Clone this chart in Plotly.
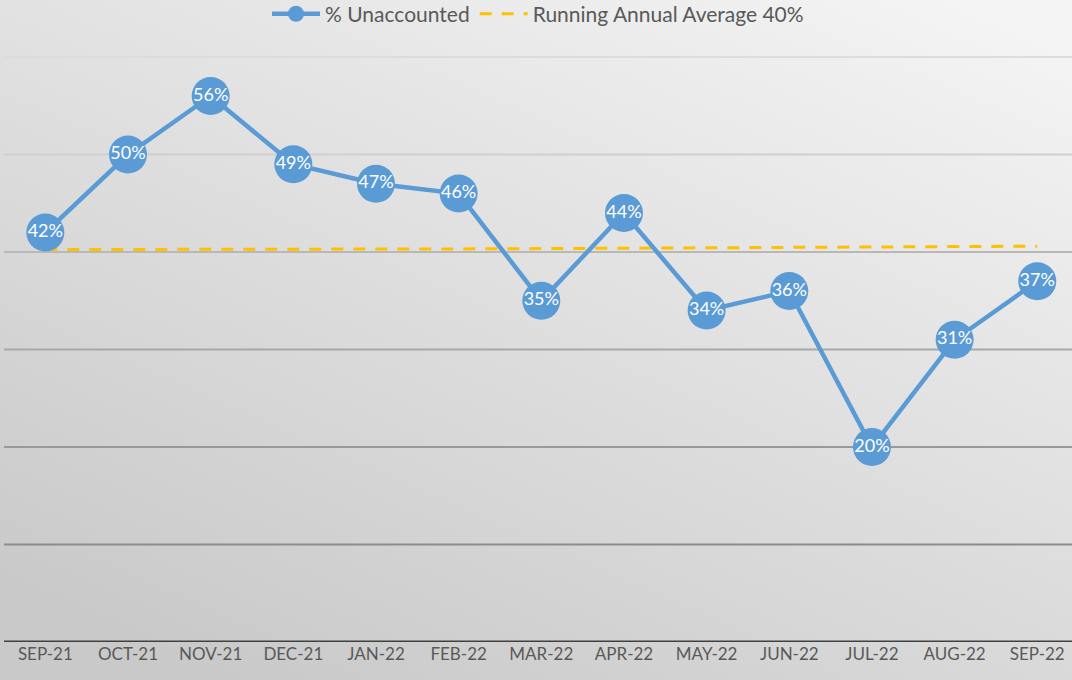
import base64
import plotly.graph_objects as go

months = ["SEP-21", "OCT-21", "NOV-21", "DEC-21", "JAN-22", "FEB-22", "MAR-22",
          "APR-22", "MAY-22", "JUN-22", "JUL-22", "AUG-22", "SEP-22"]
unaccounted = [0.42, 0.50, 0.56, 0.49, 0.47, 0.46, 0.35, 0.44, 0.34, 0.36, 0.20, 0.31, 0.37]
running_avg = [0.4025, 0.4025, 0.4025, 0.4028, 0.4030, 0.4032, 0.4035, 0.4040, 0.4042,
               0.4045, 0.4050, 0.4055, 0.4060]
grid_values = [0.1, 0.2, 0.3, 0.4, 0.5, 0.6]

x_idx = list(range(len(months)))

svg = """<svg xmlns='http://www.w3.org/2000/svg' width='1072' height='680' preserveAspectRatio='none'>
<defs><linearGradient id='g' x1='0.9' y1='0' x2='0.2' y2='1'>
<stop offset='0' stop-color='#f4f4f4'/><stop offset='1' stop-color='#c9c9c9'/>
</linearGradient></defs><rect width='1072' height='680' fill='url(#g)'/></svg>"""
bg_src = "data:image/svg+xml;base64," + base64.b64encode(svg.encode()).decode()

fig = go.Figure()

fig.add_trace(go.Scatter(
    x=x_idx, y=running_avg, name="Running Annual Average 40%",
    mode="lines",
    line=dict(color="#ffc000", width=3, dash="12px,10px"),
))
fig.add_trace(go.Scatter(
    x=x_idx, y=unaccounted, name="% Unaccounted",
    mode="lines+markers+text",
    line=dict(color="#5b9bd5", width=4.5),
    marker=dict(size=38, color="#5b9bd5"),
    text=[f"{round(v*100)}%" for v in unaccounted],
    textposition="middle center",
    textfont=dict(color="white", size=18, family="Lato"),
))

grid_colors = ["#8c8c8c", "#999999", "#a8a8a8", "#b8b8b8", "#cfcfcf", "#dcdcdc"]
shapes = []
for v, c in zip(grid_values, grid_colors):
    shapes.append(dict(type="line", xref="paper", yref="y", x0=0, x1=1, y0=v, y1=v,
                       line=dict(color=c, width=2), layer="below"))
shapes.append(dict(type="line", xref="paper", yref="y", x0=0, x1=1, y0=0, y1=0,
                   line=dict(color="#404040", width=3), layer="above"))

fig.update_layout(
    width=1072, height=680,
    margin=dict(l=4, r=0, t=0, b=38, autoexpand=False),
    paper_bgcolor="#dedede",
    plot_bgcolor="rgba(0,0,0,0)",
    images=[dict(source=bg_src, xref="paper", yref="paper", x=-0.004, y=1.0,
                 sizex=1.01, sizey=680 / 642, xanchor="left", yanchor="top",
                 sizing="stretch", layer="below")],
    shapes=shapes,
    showlegend=True,
    legend=dict(orientation="h", x=0.5, xanchor="center", y=1.01, yanchor="top",
                font=dict(family="Lato", size=21, color="#595959"),
                bgcolor="rgba(0,0,0,0)", traceorder="reversed", itemwidth=48),
    xaxis=dict(range=[-0.5, 12.42], tickmode="array", tickvals=x_idx, ticktext=months,
               showgrid=False, zeroline=False, showline=False, ticks="",
               tickfont=dict(family="Lato", size=17, color="#595959")),
    yaxis=dict(range=[0, 0.6585], showgrid=False, zeroline=False, showticklabels=False,
               showline=False),
)

fig.write_html("out.html", config={"displayModeBar": False},
               post_script="document.body.style.margin='0px';")
